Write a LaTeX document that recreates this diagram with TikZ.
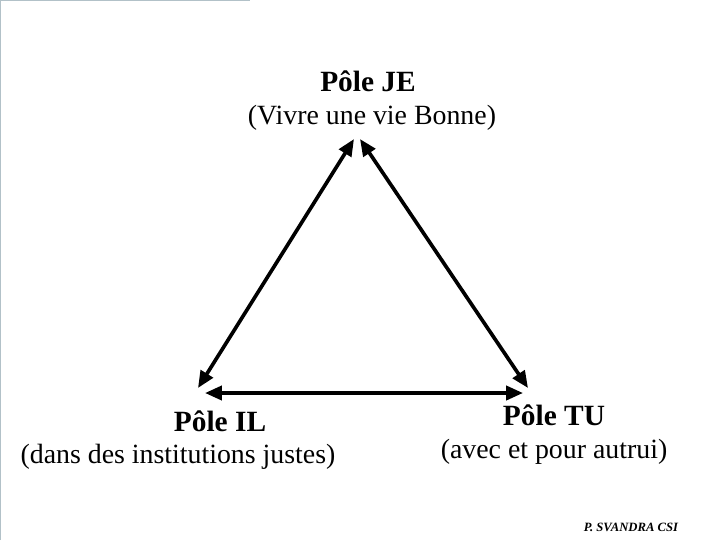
\documentclass[tikz,border=0pt]{standalone}
\usepackage{fontspec}
\setmainfont{Liberation Serif}
\usepackage{tikz}
\usetikzlibrary{arrows.meta, positioning}

\begin{document}
\begin{tikzpicture}[
  x=0.025cm, y=-0.025cm,
  pole/.style={font=\fontsize{20.9}{25}\selectfont\bfseries, inner sep=0pt},
  motto/.style={font=\fontsize{19.8}{24}\selectfont, inner sep=0pt},
  sign/.style={font=\fontsize{9}{11}\selectfont\bfseries\itshape, inner sep=0pt},
  arr/.style={{Triangle[length=12pt, width=10pt]}-{Triangle[length=12pt, width=10pt]}, line width=2.6pt},
  frame/.style={draw=cyan!20!gray!60, line width=0.8pt},
]
  \useasboundingbox (0,0) rectangle (720,540);
  \draw[frame] (0.5,540) -- (0.5,0.5) -- (250,0.5);

  % Poles
  \node[pole] (je) at (368,81) {Pôle JE};
  \node[motto] (je-txt) at (372,118) {(Vivre une vie Bonne)};
  \node[pole] (il) at (220,421) {Pôle IL};
  \node[motto] (il-txt) at (178,457) {(dans des institutions justes)};
  \node[pole] (tu) at (554,415) {Pôle TU};
  \node[motto] (tu-txt) at (554,452) {(avec et pour autrui)};
  \node[sign] (author) at (631,527) {P. SVANDRA CSI};

  % Corners of the triangle
  \coordinate (top-l) at (354,139);
  \coordinate (top-r) at (360,139);
  \coordinate (left-d) at (198,388);
  \coordinate (left-h) at (205,393);
  \coordinate (right-h) at (523,393);
  \coordinate (right-d) at (528,388);

  \draw[arr] (left-d) -- (top-l);
  \draw[arr] (right-d) -- (top-r);
  \draw[arr] (left-h) -- (right-h);

\end{tikzpicture}
\end{document}
